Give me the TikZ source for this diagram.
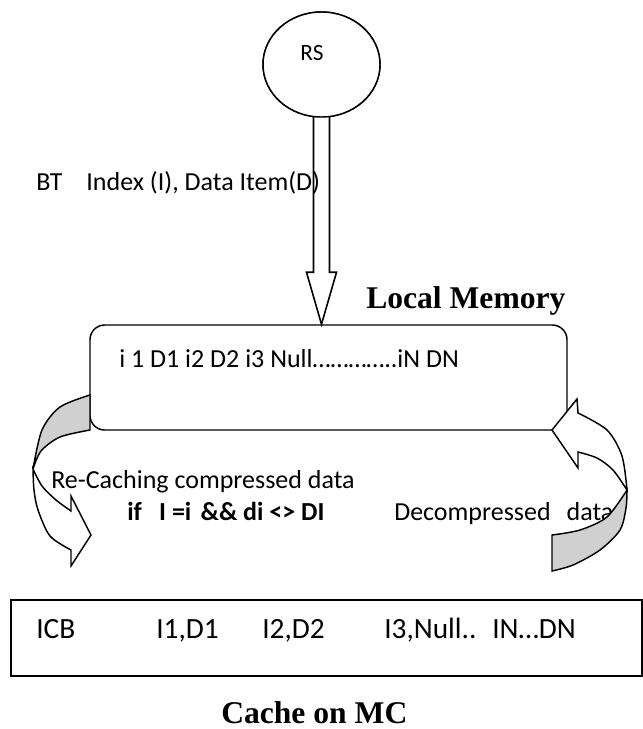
\documentclass[tikz,border=0pt]{standalone}
\usepackage{fontspec}
\setmainfont{Carlito}
\newfontfamily\tnr{Liberation Serif}
\usetikzlibrary{shapes.geometric,calc}
\definecolor{backgray}{RGB}{208,208,208}
\begin{document}
\begin{tikzpicture}[x=0.75pt,y=-0.75pt,
  txt/.style={inner sep=0pt, anchor=base west, font=\fontsize{19.5}{22}\selectfont},
  ctxt/.style={inner sep=0pt, anchor=base west, font=\fontsize{22}{26}\selectfont},
  title/.style={inner sep=0pt, anchor=base west, font=\fontsize{23.7}{28}\selectfont\tnr\bfseries},
  line/.style={draw=black, line width=1.1pt},
  blockarrow/.style={draw=black, fill=white, line width=1.2pt, line join=miter},
  curvedarrow/.style={draw=black, line width=1.1pt, line join=miter},
]
\useasboundingbox (0,0) rectangle (643,729);

% nodes
\node[ellipse, line, fill=white, minimum width=87.75pt, minimum height=78.75pt, inner sep=0pt] (rs) at (321.5,64.5) {};
\node[line, rounded corners=11pt, minimum width=357.75pt, minimum height=78.75pt, inner sep=0pt] (lm) at (328.5,377.5) {};
\node[draw=black, line width=1.5pt, minimum width=473.25pt, minimum height=57pt, inner sep=0pt] (cache) at (326.5,638) {};

% block arrow RS -> Local Memory
\coordinate (tip) at (rs.south |- lm.north);
\draw[blockarrow] ($(rs.south)+(-8,-8)$) -- ($(tip)+(-8,-52)$) -- ($(tip)+(-15,-52)$) -- (tip)
  -- ($(tip)+(15,-52)$) -- ($(tip)+(8,-52)$) -- ($(rs.south)+(8,-8)$);
\node[ellipse, line, fill=white, minimum width=87.75pt, minimum height=78.75pt, inner sep=0pt] (rs2) at (rs.center) {};
\node[inner sep=0pt, font=\fontsize{17.5}{20}\selectfont] (rslabel) at (312,53) {RS};

% texts
\node[txt] (bt) at (36,190) {BT\hspace{18pt}Index (I), Data Item(D)};
\node[title] (lmtitle) at (366,308) {Local Memory};
\node[txt] (lmtext) at (119,367) {i 1 D1 i2 D2 i3 Null…………..iN DN};
\node[txt] (recache) at (51,488) {Re-Caching compressed data};
\node[txt, font=\fontsize{19.5}{22}\selectfont\bfseries] (cond) at (127,520) {if\hspace{13pt}I =i\hspace{7pt}\&\& di <> DI};
\node[txt] (decomp) at (394,520) {Decompressed\hspace{12pt}data};

\node[ctxt] (c0) at (36,638) {ICB};
\node[ctxt] (c1) at (156,638) {I1,D1};
\node[ctxt] (c2) at (262,638) {I2,D2};
\node[ctxt] (c3) at (384,638) {I3,Null..};
\node[ctxt] (c4) at (492,638) {IN…DN};
\node[title] (cachetitle) at (221,723) {Cache on MC};

% left curved arrow (re-caching)
\draw[curvedarrow, fill=backgray] plot[smooth] coordinates {(90,395) (60,407) (42,430) (33,469)}
  -- plot[smooth] coordinates {(33,469) (41,451) (60,437) (90,430)} -- cycle;
\draw[curvedarrow, fill=white] plot[smooth] coordinates {(33,469) (34,490) (38,510) (50,536) (71,550)}
  -- (71,566) -- (91,535) -- (71,496) -- (71,511)
  -- plot[smooth] coordinates {(71,511) (56,500) (42,486) (33,469)} -- cycle;

% right curved arrow (decompressed)
\draw[curvedarrow, fill=white] (552,430) -- (577,399) -- (578,413)
  -- plot[smooth] coordinates {(578,413) (607,430) (622,456) (627,490)}
  -- plot[smooth] coordinates {(627,490) (613,470) (597,458) (578,452)}
  -- (578,468) -- cycle;
\draw[curvedarrow, fill=backgray] plot[smooth] coordinates {(627,490) (626,508) (620,530) (600,550) (573,565) (552,571)}
  -- (552,535) -- plot[smooth] coordinates {(552,535) (580,530) (607,517) (627,490)} -- cycle;
\end{tikzpicture}
\end{document}
